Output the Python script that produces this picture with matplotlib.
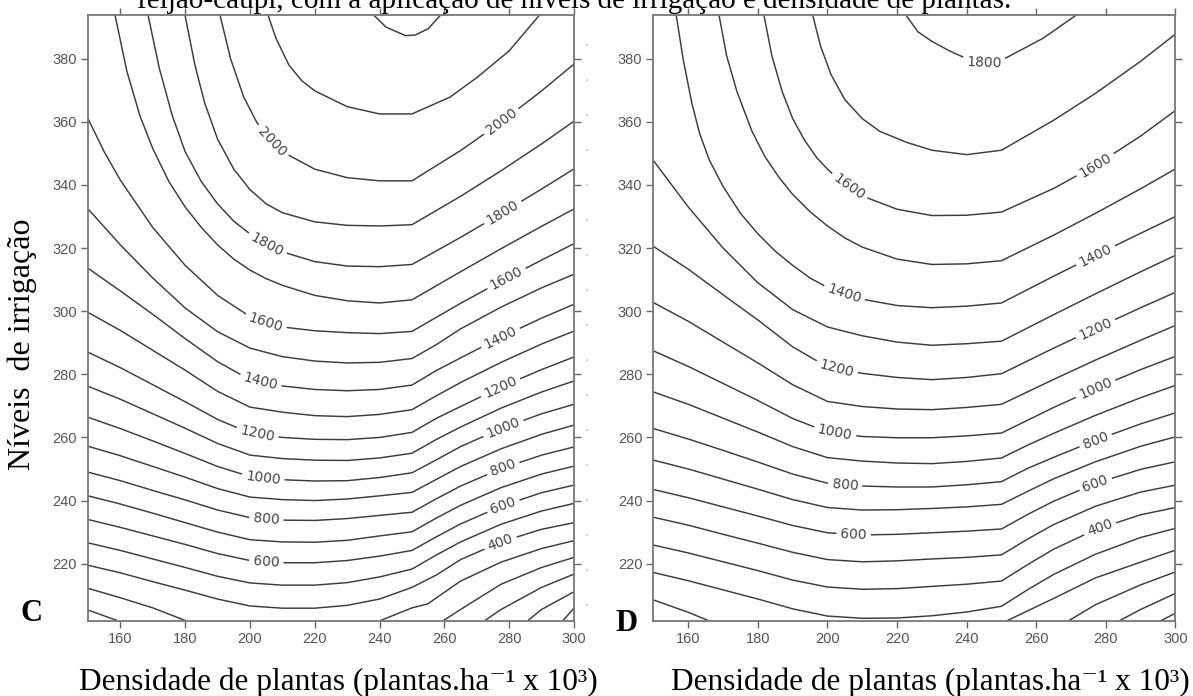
import matplotlib
matplotlib.use("Agg")
import matplotlib.pyplot as plt
from matplotlib.lines import Line2D
import numpy as np

plt.rcParams['contour.negative_linestyle'] = 'solid'

# Panel C: y position of each contour line, read at these x columns
c_cols = [150, 160, 170, 180, 190, 200, 210, 220, 230, 240, 250, 265, 277.5, 290, 300]
c_lines = {
    400: [219.5, 217.1, 214.3, 211.6, 208.8, 206.6, 205.9, 205.9, 206.8, 208.8, 212.5, 221.3, 226.9, 230.9, 233.0],
    500: [226.6, 224.2, 221.5, 218.8, 216.0, 213.9, 213.2, 213.2, 214.0, 215.8, 218.3, 226.9, 232.5, 236.7, 239.1],
    600: [234.0, 231.5, 228.8, 226.1, 223.2, 221.0, 220.3, 220.3, 221.0, 222.4, 224.2, 232.6, 238.2, 242.5, 244.9],
    700: [241.5, 238.9, 236.0, 233.0, 230.0, 227.6, 226.9, 226.8, 227.4, 228.8, 230.1, 238.5, 244.1, 248.4, 250.9],
    800: [249.0, 246.3, 243.2, 240.2, 237.0, 234.6, 233.8, 233.7, 234.3, 235.3, 236.3, 244.6, 250.1, 254.4, 257.0],
    900: [257.2, 254.2, 250.8, 247.4, 243.8, 241.1, 240.3, 240.0, 240.5, 241.5, 242.6, 250.8, 256.4, 261.0, 263.9],
    1000: [266.4, 262.8, 258.9, 254.9, 250.8, 247.6, 246.6, 246.2, 246.3, 247.3, 248.8, 257.1, 262.8, 267.5, 270.5],
    1100: [276.2, 272.1, 267.5, 262.9, 258.1, 254.4, 253.3, 252.8, 252.7, 253.5, 255.0, 263.3, 269.3, 274.4, 277.9],
    1200: [287.0, 282.1, 276.7, 271.3, 265.7, 261.4, 260.0, 259.4, 259.3, 260.0, 261.6, 269.8, 276.0, 281.5, 285.5],
    1300: [299.6, 293.9, 287.6, 281.3, 274.6, 269.6, 268.0, 266.9, 266.6, 267.3, 268.8, 277.4, 283.8, 289.6, 293.7],
    1400: [313.6, 306.4, 299.0, 291.3, 284.0, 278.3, 276.3, 275.2, 274.8, 275.2, 276.6, 285.2, 291.8, 297.8, 302.2],
    1500: [332.4, 321.0, 310.5, 301.0, 293.5, 288.3, 285.6, 284.2, 283.6, 283.8, 285.0, 294.4, 301.3, 307.4, 311.7],
}
# lines read at their own x positions (they bend hard or meet the top / bottom edge)
c_parts = [
    (1600, [150, 155, 160, 170, 180, 190, 200, 205, 210, 220, 230, 240, 250, 265, 277.5, 290, 300],
     [361, 350.5, 341.5, 326.5, 314.5, 305, 298.3, 296.3, 295, 293.8, 293.2, 292.9, 293.6, 302.5, 309.5, 316.2, 321.4]),
    (1700, [158.3, 162, 166, 170, 175, 180, 185, 190, 195, 200, 205, 210, 220, 230, 240, 250, 265, 277.5, 290, 300],
     [394, 376, 362, 351.5, 341, 333, 326.5, 321, 316.5, 313, 310.3, 308.2, 305, 303.3, 302.6, 303.6, 312.5, 319.8, 326.9, 332.4]),
    (1800, [168.5, 172, 176, 180, 185, 190, 195, 200, 205, 210, 220, 230, 240, 250, 265, 277.5, 290, 300],
     [394, 377, 362, 350.5, 341, 334, 328.5, 324.5, 321.2, 318.8, 315.7, 314.3, 314.1, 314.8, 323.4, 330.9, 338.7, 345.1]),
    (1900, [179.9, 183, 186, 190, 195, 200, 205, 210, 220, 230, 240, 250, 265, 277.5, 290, 300],
     [394, 378, 366, 354.5, 345, 338.5, 334, 331.2, 328.3, 327.2, 327, 327.4, 336.4, 344.5, 353.0, 360.2]),
    (2000, [190.7, 194, 198, 202, 206, 210, 220, 230, 240, 250, 265, 277.5, 290, 300],
     [394, 380, 368, 360, 354.5, 350.5, 345, 342.3, 341.3, 341.3, 350.9, 359.9, 369.8, 378.3]),
    (2100, [205.5, 208, 212, 216, 220, 230, 240, 250, 261.7, 270, 280, 289.5],
     [394, 386.5, 378, 373, 369.8, 364.8, 362.5, 362.5, 367.8, 374, 382.5, 394]),
    (2200, [238, 242, 248, 251, 255, 259], [394, 390, 387.3, 387.5, 389.5, 394]),
    (300, [150, 160, 170, 180], [212.2, 209.2, 206.0, 202.0]),
    (300, [240.3, 250, 265, 277.5, 290, 300], [202, 206, 214.5, 220.5, 224.8, 227.3]),
    (200, [150, 159], [205.3, 202]),
    (200, [259.7, 265, 277.5, 290, 300], [202, 205.5, 213.5, 218.8, 222.0]),
    (100, [272.5, 277.5, 290, 300], [202, 205.5, 212.5, 216.7]),
    (0, [285.8, 290, 300], [202, 205.5, 211.1]),
    (-100, [296.6, 300], [202, 205.9]),
]
# estimated values on the frame between lines: (x, y, value)
c_edges = [(150, 202, 153), (150, 394, 1673), (300, 202, -175), (300, 394, 2071),
           (200, 202, 334), (215, 202, 344), (230, 202, 331), (220, 394, 2145), (249, 394, 2212)]

# Panel D
d_cols = [150, 160, 170, 180, 190, 200, 210, 220, 230, 240, 250, 265, 277, 290, 300]
d_lines = {
    300: [217.2, 214.6, 211.7, 208.8, 205.7, 203.4, 202.7, 202.8, 203.5, 204.7, 206.5, 216.6, 223.0, 228.3, 231.2],
    400: [225.9, 223.4, 220.6, 217.8, 214.8, 212.6, 211.9, 212.1, 212.8, 213.5, 214.5, 224.6, 230.8, 235.5, 237.8],
    500: [234.7, 232.2, 229.3, 226.5, 223.6, 221.3, 220.6, 220.9, 221.5, 222.0, 222.8, 232.4, 238.2, 242.7, 244.9],
    600: [243.5, 240.9, 238.0, 235.1, 232.1, 229.8, 229.1, 229.3, 229.8, 230.3, 231.0, 239.8, 245.4, 249.9, 252.3],
    700: [252.8, 250.0, 246.8, 243.6, 240.3, 237.8, 237.0, 237.1, 237.5, 238.0, 238.8, 246.9, 252.3, 257.2, 260.2],
    800: [262.8, 259.5, 255.9, 252.2, 248.4, 245.5, 244.6, 244.3, 244.3, 245.0, 246.0, 253.7, 259.1, 264.3, 267.8],
    900: [274.4, 270.5, 266.1, 261.7, 257.1, 253.6, 252.5, 251.9, 251.7, 252.4, 253.5, 261.3, 267.0, 272.6, 276.5],
    1000: [287.4, 282.5, 277.1, 271.7, 266.0, 261.7, 260.3, 259.9, 259.9, 260.5, 261.4, 269.5, 275.5, 281.5, 285.7],
    1100: [302.7, 296.8, 290.2, 283.6, 276.7, 271.4, 269.8, 269.0, 268.8, 269.5, 270.5, 278.4, 284.5, 290.8, 295.5],
    1200: [320.5, 313.3, 305.2, 297.2, 288.7, 282.3, 280.3, 279.0, 278.3, 279.0, 280.2, 288.3, 294.5, 301.1, 306.0],
    1300: [347.7, 333.0, 320.0, 309.0, 300.5, 295.0, 292.2, 290.2, 289.2, 289.7, 290.5, 298.9, 305.5, 312.5, 317.7],
}
d_parts = [
    (1400, [156.5, 158.5, 161, 163.2, 166, 170, 175, 180, 185, 190, 195, 200, 205, 210, 220, 230, 240, 250, 265, 277, 290, 300],
     [394, 380, 366, 356.5, 348, 339.5, 331, 324.5, 319, 314.5, 310.5, 307.5, 305.3, 303.8, 301.8, 301.1, 301.6, 302.6, 311.1, 317.7, 324.7, 330.0]),
    (1500, [168.8, 171, 174, 178.3, 182, 186, 190, 195, 200, 205, 210, 220, 230, 240, 250, 265, 277, 290, 300],
     [394, 381, 369.5, 357, 349, 342.5, 337, 331.5, 327, 323.2, 320.3, 316.5, 314.8, 315.0, 316.0, 324.1, 331.0, 338.8, 345.1]),
    (1600, [181.7, 184, 187, 190, 193.5, 197, 200, 205, 210, 220, 230, 240, 250, 265, 277, 290, 300],
     [394, 381, 369.5, 361, 354, 348.5, 345, 340, 336.5, 332.3, 330.3, 330.4, 331.4, 338.9, 346.2, 355.5, 363.6]),
    (1700, [195.7, 198, 201, 205, 210, 215, 222.7, 230, 240, 250, 265, 277, 290, 300],
     [394, 384, 375, 367, 361, 357, 353.5, 351, 349.6, 351.0, 360.5, 369.0, 379.2, 387.8]),
    (1800, [222.4, 226, 230, 235, 240, 245, 250, 262, 271.7],
     [394, 388.5, 385.5, 382.5, 380.0, 378.6, 379.5, 386.5, 394]),
    (200, [150, 160, 165.7], [208.5, 204.6, 202]),
    (200, [251.7, 265, 277, 290, 300], [202, 209, 215.5, 220.5, 224.3]),
    (100, [269.4, 277, 290, 300], [202, 207, 213.3, 217.4]),
    (0, [284, 290, 300], [202, 205.5, 210.6]),
    (-100, [295.9, 300], [202, 204.3]),
]
d_edges = [(150, 202, 125), (150, 394, 1380), (300, 202, -140), (300, 394, 1720),
           (200, 202, 284), (215, 202, 292), (230, 202, 283),
           (210, 394, 1755), (245, 394, 1822), (290, 394, 1760)]

plain_levels = [-100, 0, 100, 200, 300, 500, 700, 900, 1100, 1300, 1500, 1700, 1900, 2100, 2200]
label_levels = [400, 600, 800, 1000, 1200, 1400, 1600, 1800, 2000]
c_labels = [(205, 220.3), (205, 233.8), (204, 246.7), (202, 259.8), (203, 276.5),
            (204.6, 295.7), (205, 320.5), (208, 355),
            (277.2, 226.9), (278.2, 238.2), (278.2, 250.1), (278.2, 262.8), (277.2, 276),
            (277.2, 291.8), (278.7, 311.3), (278.2, 330.9), (277.7, 359.9)]
d_labels = [(207.5, 229), (205, 244.3), (202, 260.5), (202.5, 281.3), (204.6, 305),
            (205.2, 337.7), (245, 377.8),
            (278.3, 231.2), (277, 245.4), (277, 259.1), (277, 275.5), (277, 294.5),
            (277, 317.7), (277, 346.2)]


def points(cols, lines, parts, edges):
    xs, ys, zs = [], [], []
    for lev, yl in lines.items():
        xs += list(cols)
        ys += yl
        zs += [lev] * len(yl)
    for lev, xl, yl in parts:
        xs += xl
        ys += yl
        zs += [lev] * len(xl)
    for x, y, z in edges:
        xs.append(x)
        ys.append(y)
        zs.append(z)
    return np.array(xs, float), np.array(ys, float), np.array(zs, float)


fig = plt.figure(figsize=(11.93, 6.96), dpi=100)
ax_c = fig.add_axes([88 / 1193, 75.5 / 696, 486 / 1193, 606 / 696])
ax_d = fig.add_axes([653.5 / 1193, 75.5 / 696, 522 / 1193, 606 / 696])

panels = [(ax_c, points(c_cols, c_lines, c_parts, c_edges), c_labels),
          (ax_d, points(d_cols, d_lines, d_parts, d_edges), d_labels)]
for ax, (px, py, pz), labs in panels:
    ax.tricontour(px, py, pz, levels=plain_levels, colors='#3c3c3c',
                  linewidths=1.05, linestyles='solid')
    cs = ax.tricontour(px, py, pz, levels=label_levels, colors='#3c3c3c',
                       linewidths=1.05, linestyles='solid')
    ax.clabel(cs, manual=labs, inline=True, fmt='%d', fontsize=10,
              colors='#444444', inline_spacing=4)
    ax.set_xlim(150, 300)
    ax.set_ylim(202, 394)
    ax.set_xticks(range(160, 301, 20))
    ax.set_yticks(range(220, 381, 20))
    ax.tick_params(direction='out', length=5, width=1, color='#666666', labelcolor='#555555',
                   labelsize=10.5, top=True, right=True, pad=3)
    for lab in ax.get_xticklabels() + ax.get_yticklabels():
        lab.set_family('Liberation Sans')
    for s in ax.spines.values():
        s.set_color('#777777')
        s.set_linewidth(1.3)

# faint dotted trace between the two panels
fig.add_artist(Line2D([587 / 1193, 587 / 1193], [0.13, 0.95], color='#c4c4c4',
                      linewidth=1.2, linestyle=(0, (1, 20))))

serif = ['Liberation Serif', 'DejaVu Serif']
fig.text(574 / 1193, 1 - 8.5 / 696,
         'feijão-caupi, com a aplicação de níveis de irrigação e densidade de plantas.',
         ha='center', va='baseline', fontsize=21, family=serif)
fig.text(22.5 / 1193, 1 - 344 / 696, 'Níveis  de irrigação', rotation=90,
         ha='center', va='center', fontsize=23, family=serif)
xlab = 'Densidade de plantas (plantas.ha⁻¹ x 10³)'
fig.text(338 / 1193, 6 / 696, xlab, ha='center', va='baseline', fontsize=22.5, family=serif)
fig.text(930 / 1193, 6 / 696, xlab, ha='center', va='baseline', fontsize=22.5, family=serif)
fig.text(20 / 1193, 75 / 696, 'C', ha='left', va='baseline', fontsize=22,
         fontweight='bold', family=serif)
fig.text(615 / 1193, 65 / 696, 'D', ha='left', va='baseline', fontsize=22,
         fontweight='bold', family=serif)

fig.savefig('out.png', dpi=100)
